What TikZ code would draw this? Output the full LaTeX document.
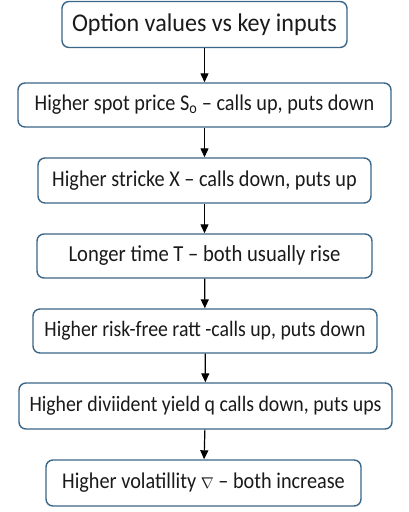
\documentclass[tikz,border=0pt]{standalone}
\usepackage{fontspec}
\setmainfont{Carlito}[FakeStretch=0.9]
\newfontfamily\titlefont{Carlito}[FakeStretch=0.945]
\usetikzlibrary{arrows.meta}
\definecolor{boxline}{HTML}{3A6688}
\definecolor{txt}{HTML}{1A1A1A}
\tikzset{
  box/.style={draw=boxline, line width=1.4pt, rounded corners=7pt, fill=white,
    inner sep=0pt, align=center, text=txt, font=\fontsize{22.5}{26}\selectfont},
  link/.style={draw=black, line width=1.2pt, -{Triangle[length=9pt,width=8pt]}}
}
\begin{document}
\begin{tikzpicture}[x=1pt,y=-1pt]
\useasboundingbox (0,0) rectangle (409,512);
\node[box, minimum width=285pt, minimum height=46pt, font=\titlefont\fontsize{25.5}{28}\selectfont] (n1) at (204.5,24.5) {Option values vs key inputs};
\node[box, minimum width=373pt, minimum height=44pt] (n2) at (204.5,105) {Higher spot price S\textsubscript{o} – calls up, puts down};
\node[box, minimum width=333pt, minimum height=45pt] (n3) at (204.5,180.5) {Higher stricke X – calls down, puts up};
\node[box, minimum width=335pt, minimum height=44pt, font=\fontsize{22.9}{26}\selectfont] (n4) at (204.5,256) {Longer time T – both usually rise};
\node[box, minimum width=344pt, minimum height=44pt, font=\fontsize{22}{26}\selectfont] (n5) at (205,331) {Higher risk-free ratt -calls up, puts down};
\node[box, minimum width=373pt, minimum height=46pt, font=\fontsize{22}{26}\selectfont] (n6) at (205.5,406) {Higher diviident yield q calls down, puts ups};
\node[box, minimum width=315pt, minimum height=46pt] (n7) at (203.5,483) {Higher volatillity \scalebox{0.75}{$\nabla$} – both increase};
\draw[link] (n1) -- (n2);
\draw[link] (n2) -- (n3);
\draw[link] (n3) -- (n4);
\draw[link] (n4) -- (n5);
\draw[link] (n5) -- (n6);
\draw[link] (n6) -- (n7);
\end{tikzpicture}
\end{document}
